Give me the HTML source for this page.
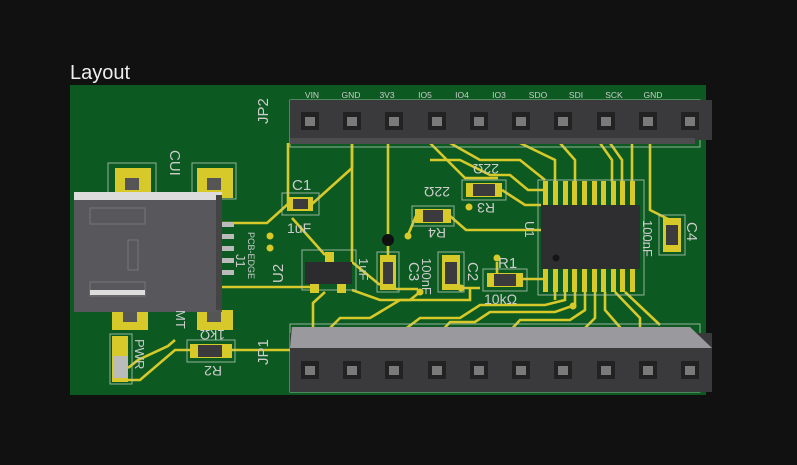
<!DOCTYPE html>
<html><head><meta charset="utf-8"><style>
body{margin:0;background:#111;width:797px;height:465px;overflow:hidden}
svg{display:block}
text{font-family:"Liberation Sans",sans-serif}
</style></head><body>
<svg width="797" height="465" viewBox="0 0 797 465" xmlns="http://www.w3.org/2000/svg">
<rect width="797" height="465" fill="#111"/>
<text x="70" y="79" font-size="20" fill="#eee">Layout</text>
<rect x="70" y="85" width="636" height="310" fill="#0c5a21"/>
<!-- traces -->
<g stroke="#d8c92a" stroke-width="2.6" fill="none">
<path d="M222 223 H267 L288 204"/>
<path d="M312 204 L352 168 V143"/>
<path d="M288 204 V143"/>
<path d="M292 218 L325 255"/>
<path d="M352 143 V262 L380 285"/>
<path d="M388 143 V256"/>
<path d="M222 287 H310"/>
<path d="M325 292 L313 303 V333"/>
<path d="M352 290 L380 300 H410 L420 292"/>
<path d="M396 289 H418"/>
<path d="M416 216 L408 235"/>
<path d="M450 216 L466 230 H541"/>
<path d="M502 190 L525 205 H541"/>
<path d="M430 160 L460 160 L490 175 H510 L528 190 H545"/>
<path d="M430 143 L465 178 H498"/>
<path d="M450 143 L480 160 H520 L545 180"/>
<path d="M520 143 L555 160 V182"/>
<path d="M560 143 L575 160 V182"/>
<path d="M600 143 L612 160 V182"/>
<path d="M610 143 L622 160 V182"/>
<path d="M632 143 V182"/>
<path d="M650 143 V210 L670 220"/>
<path d="M461 288 H480"/>
<path d="M470 288 L470 300 H400 L370 318 H340 L325 333"/>
<path d="M522 279 H545"/>
<path d="M565 292 V300 L545 305 H480 L460 318 H420 L400 333"/>
<path d="M575 292 V305 L555 312 H490 L475 322 H450 L440 333"/>
<path d="M585 292 V310 L570 320 H520 L508 333"/>
<path d="M595 292 V318 L580 333"/>
<path d="M605 292 V310 L625 333"/>
<path d="M615 292 L640 318 V333"/>
<path d="M625 292 L660 325"/>
<path d="M555 292 V300"/>
<path d="M497 262 V275"/>
<path d="M175 340 L168 346 L138 360 L128 368"/>
<path d="M190 350 H175 L140 380 H128"/>
<path d="M232 350 H290"/>
</g>
<g fill="#d8c92a">
<circle cx="270" cy="236" r="3.5"/><circle cx="270" cy="248" r="3.5"/>
<circle cx="408" cy="236" r="3.5"/><circle cx="420" cy="292" r="3.5"/>
<circle cx="461" cy="288" r="3.5"/><circle cx="469" cy="207" r="3.5"/>
<circle cx="497" cy="258" r="3.5"/><circle cx="573" cy="306" r="3.5"/>
<circle cx="388" cy="240" r="6" fill="#111"/>
</g>
<!-- silkscreen outlines -->
<g stroke="#b8c8b8" stroke-width="1" fill="none" opacity="0.8">
<rect x="290" y="100" width="410" height="47"/>
<rect x="290" y="324" width="410" height="68"/>
<rect x="282" y="193" width="37" height="22"/>
<rect x="302" y="250" width="54" height="40"/>
<rect x="377" y="252" width="22" height="40"/>
<rect x="438" y="252" width="26" height="40"/>
<rect x="412" y="206" width="42" height="20"/>
<rect x="462" y="180" width="44" height="20"/>
<rect x="483" y="269" width="44" height="22"/>
<rect x="538" y="180" width="106" height="115"/>
<rect x="659" y="215" width="26" height="40"/>
<rect x="187" y="340" width="48" height="22"/>
<rect x="110" y="334" width="22" height="50"/>
<rect x="108" y="163" width="48" height="36"/>
<rect x="192" y="163" width="44" height="36"/>
</g>
<!-- USB pads -->
<g fill="#d8c92a">
<rect x="115" y="168" width="36" height="30"/><rect x="197" y="168" width="36" height="30"/>
<rect x="112" y="310" width="36" height="20"/><rect x="197" y="310" width="36" height="20"/>
</g>
<g fill="#555"><rect x="125" y="178" width="14" height="12"/><rect x="207" y="178" width="14" height="12"/><rect x="123" y="312" width="14" height="10"/><rect x="207" y="312" width="14" height="10"/></g>
<!-- USB connector -->
<rect x="74" y="192" width="148" height="120" fill="#57575c"/>
<rect x="74" y="192" width="148" height="8" fill="#dcdcdc"/>
<rect x="216" y="195" width="6" height="115" fill="#444"/>
<g fill="#bbb"><rect x="222" y="222" width="12" height="5"/><rect x="222" y="234" width="12" height="5"/><rect x="222" y="246" width="12" height="5"/><rect x="222" y="258" width="12" height="5"/><rect x="222" y="270" width="12" height="5"/></g>
<g stroke="#777" fill="none"><rect x="90" y="208" width="55" height="16"/><rect x="128" y="240" width="10" height="30"/><rect x="90" y="282" width="55" height="14"/></g>
<rect x="90" y="290" width="55" height="5" fill="#ddd"/>
<!-- headers -->
<rect x="290" y="100" width="422" height="40" fill="#3a3a3d"/>
<rect x="290" y="138" width="405" height="6" fill="#4d4d50"/>
<polygon points="290,333 712,333 712,392 290,392" fill="#3a3a3d"/>
<polygon points="292,327 690,327 712,348 290,348" fill="#9a9a9e"/>
<g fill="#222">
<rect x="301" y="112" width="18" height="18"/><rect x="343" y="112" width="18" height="18"/><rect x="385" y="112" width="18" height="18"/><rect x="428" y="112" width="18" height="18"/><rect x="470" y="112" width="18" height="18"/><rect x="512" y="112" width="18" height="18"/><rect x="554" y="112" width="18" height="18"/><rect x="597" y="112" width="18" height="18"/><rect x="639" y="112" width="18" height="18"/><rect x="681" y="112" width="18" height="18"/>
<rect x="301" y="361" width="18" height="18"/><rect x="343" y="361" width="18" height="18"/><rect x="385" y="361" width="18" height="18"/><rect x="428" y="361" width="18" height="18"/><rect x="470" y="361" width="18" height="18"/><rect x="512" y="361" width="18" height="18"/><rect x="554" y="361" width="18" height="18"/><rect x="597" y="361" width="18" height="18"/><rect x="639" y="361" width="18" height="18"/><rect x="681" y="361" width="18" height="18"/>
</g>
<g fill="#7a7a7a">
<rect x="305" y="117" width="10" height="9"/><rect x="347" y="117" width="10" height="9"/><rect x="389" y="117" width="10" height="9"/><rect x="432" y="117" width="10" height="9"/><rect x="474" y="117" width="10" height="9"/><rect x="516" y="117" width="10" height="9"/><rect x="558" y="117" width="10" height="9"/><rect x="601" y="117" width="10" height="9"/><rect x="643" y="117" width="10" height="9"/><rect x="685" y="117" width="10" height="9"/>
<rect x="305" y="366" width="10" height="9"/><rect x="347" y="366" width="10" height="9"/><rect x="389" y="366" width="10" height="9"/><rect x="432" y="366" width="10" height="9"/><rect x="474" y="366" width="10" height="9"/><rect x="516" y="366" width="10" height="9"/><rect x="558" y="366" width="10" height="9"/><rect x="601" y="366" width="10" height="9"/><rect x="643" y="366" width="10" height="9"/><rect x="685" y="366" width="10" height="9"/>
</g>
<g font-size="8.5" fill="#ccc" text-anchor="middle">
<text x="312" y="98">VIN</text><text x="351" y="98">GND</text><text x="387" y="98">3V3</text><text x="425" y="98">IO5</text><text x="462" y="98">IO4</text><text x="499" y="98">IO3</text><text x="538" y="98">SDO</text><text x="576" y="98">SDI</text><text x="614" y="98">SCK</text><text x="653" y="98">GND</text>
</g>
<!-- IC -->
<g fill="#d8c92a">
<rect x="543" y="181" width="5" height="24"/><rect x="553" y="181" width="5" height="24"/><rect x="563" y="181" width="5" height="24"/><rect x="572" y="181" width="5" height="24"/><rect x="582" y="181" width="5" height="24"/><rect x="592" y="181" width="5" height="24"/><rect x="601" y="181" width="5" height="24"/><rect x="611" y="181" width="5" height="24"/><rect x="620" y="181" width="5" height="24"/><rect x="630" y="181" width="5" height="24"/>
<rect x="543" y="268" width="5" height="24"/><rect x="553" y="268" width="5" height="24"/><rect x="563" y="268" width="5" height="24"/><rect x="572" y="268" width="5" height="24"/><rect x="582" y="268" width="5" height="24"/><rect x="592" y="268" width="5" height="24"/><rect x="601" y="268" width="5" height="24"/><rect x="611" y="268" width="5" height="24"/><rect x="620" y="268" width="5" height="24"/><rect x="630" y="268" width="5" height="24"/>
</g>
<rect x="541" y="205" width="99" height="64" fill="#2e2e31"/>
<circle cx="556" cy="258" r="3.5" fill="#151515"/>
<!-- passives -->
<g fill="#d8c92a">
<rect x="287" y="197" width="26" height="14"/><rect x="380" y="255" width="16" height="35"/><rect x="442" y="255" width="18" height="35"/>
<rect x="415" y="209" width="36" height="14"/><rect x="466" y="183" width="36" height="14"/><rect x="487" y="273" width="36" height="14"/>
<rect x="663" y="218" width="18" height="34"/><rect x="190" y="344" width="42" height="14"/><rect x="112" y="336" width="16" height="46"/>
<rect x="325" y="252" width="9" height="10"/><rect x="310" y="284" width="9" height="9"/><rect x="337" y="284" width="9" height="9"/>
</g>
<g fill="#3b3b3e">
<rect x="293" y="199" width="15" height="10"/><rect x="383" y="262" width="10" height="22"/><rect x="445" y="262" width="12" height="22"/>
<rect x="423" y="210" width="20" height="12"/><rect x="473" y="184" width="22" height="12"/><rect x="494" y="274" width="22" height="12"/>
<rect x="666" y="225" width="12" height="20"/><rect x="198" y="345" width="24" height="12"/>
<rect x="305" y="262" width="47" height="22" fill="#2c2c2f"/>
</g>
<rect x="113" y="356" width="14" height="22" fill="#bbb"/>
<!-- silk labels -->
<g fill="#ccc" font-size="15">
<text x="292" y="190">C1</text><text x="287" y="233" font-size="14">1uF</text>
<text x="498" y="268">R1</text><text x="484" y="304" font-size="14">10kΩ</text>
<text transform="translate(170,150) rotate(90)">CUI</text>
<text transform="translate(268,124) rotate(-90)">JP2</text>
<text transform="translate(268,365) rotate(-90)">JP1</text>
<text transform="translate(283,283) rotate(-90)">U2</text>
<text transform="translate(236,254) rotate(90)" font-size="13">J1</text>
<text transform="translate(248,232) rotate(90)" font-size="9">PCB-EDGE</text>
<text transform="translate(409,262) rotate(90)">C3</text>
<text transform="translate(468,262) rotate(90)">C2</text>
<text transform="translate(359,258) rotate(90)" font-size="13">1uF</text>
<text transform="translate(422,258) rotate(90)" font-size="13">100nF</text>
<text transform="translate(687,222) rotate(90)">C4</text>
<text transform="translate(643,220) rotate(90)" font-size="13">100nF</text>
<text transform="translate(525,221) rotate(90)" font-size="13">U1</text>
<text transform="translate(450,187) rotate(180)" font-size="14">22Ω</text>
<text transform="translate(499,164) rotate(180)" font-size="14">22Ω</text>
<text transform="translate(495,203) rotate(180)" font-size="14">R3</text>
<text transform="translate(446,228) rotate(180)" font-size="14">R4</text>
<text transform="translate(222,366) rotate(180)" font-size="14">R2</text>
<text transform="translate(225,330) rotate(180)" font-size="14">1kΩ</text>
<text transform="translate(135,339) rotate(90)" font-size="13">PWR</text>
<text transform="translate(176,310) rotate(90)" font-size="13">MT</text>
</g>
</svg>
</body></html>
